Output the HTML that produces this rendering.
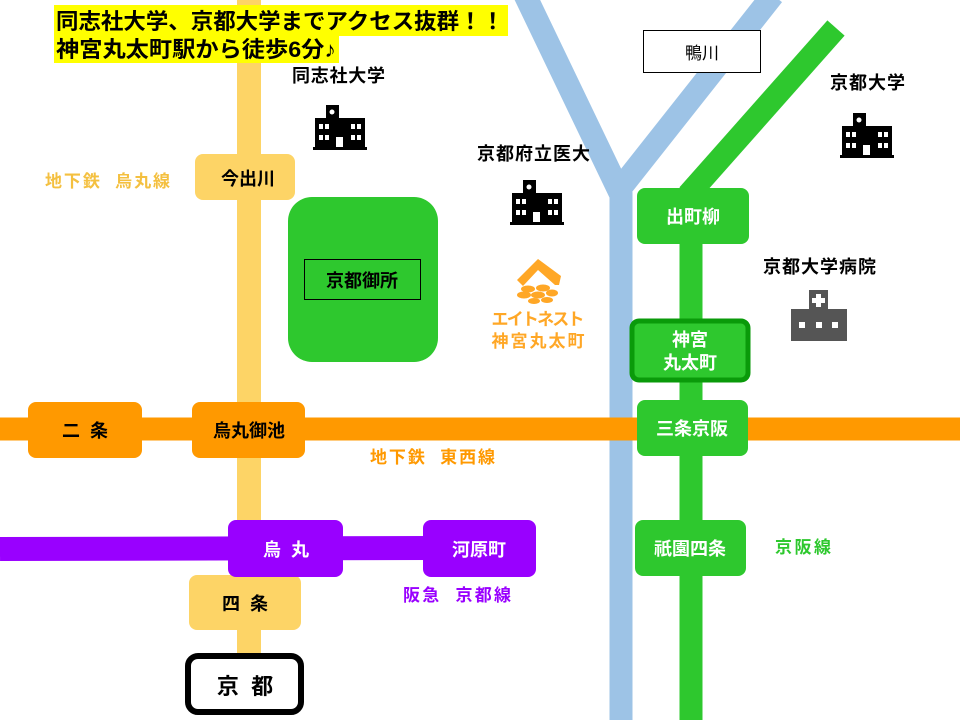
<!DOCTYPE html>
<html><head><meta charset="utf-8"><style>
html,body{margin:0;padding:0;background:#fff}
svg{display:block}
text{font-family:"Liberation Sans","Noto Sans CJK JP",sans-serif;font-weight:bold}
</style></head><body>
<svg width="960" height="720" viewBox="0 0 960 720" xmlns="http://www.w3.org/2000/svg">
<polyline points="525,-5 621,195 621,725" fill="none" stroke="#9DC3E6" stroke-width="23"/>
<line x1="773" y1="-5" x2="615" y2="195" stroke="#9DC3E6" stroke-width="23"/>
<line x1="836" y1="28" x2="688" y2="195" stroke="#2EC82E" stroke-width="23"/>
<line x1="691" y1="190" x2="691" y2="725" stroke="#2EC82E" stroke-width="23"/>
<line x1="249" y1="-5" x2="249" y2="660" stroke="#FDD466" stroke-width="24"/>
<line x1="0" y1="429" x2="960" y2="429" stroke="#FF9900" stroke-width="23"/>
<line x1="0" y1="549" x2="430" y2="548" stroke="#9900FF" stroke-width="24"/>

<rect x="54" y="5" width="454" height="31" fill="#FFFF00"/>
<rect x="54" y="35" width="285" height="28" fill="#FFFF00"/>
<text x="56" y="29" font-size="22" fill="#000" textLength="448" lengthAdjust="spacingAndGlyphs">同志社大学、京都大学までアクセス抜群！！</text>
<text x="56" y="57" font-size="22" fill="#000" textLength="280" lengthAdjust="spacingAndGlyphs">神宮丸太町駅から徒歩6分♪</text>

<text x="292" y="82" font-size="18" fill="#000" textLength="93">同志社大学</text>
<text x="477" y="160" font-size="18" fill="#000" textLength="113">京都府立医大</text>
<text x="830" y="89" font-size="18" fill="#000" textLength="75">京都大学</text>
<text x="763" y="273" font-size="18" fill="#000" textLength="113">京都大学病院</text>
<text x="45" y="187" font-size="17" fill="#F4C040" textLength="125" xml:space="preserve">地下鉄  烏丸線</text>
<text x="370" y="463" font-size="17" fill="#FF9900" textLength="125" xml:space="preserve">地下鉄  東西線</text>
<text x="403" y="601" font-size="17" fill="#9900FF" textLength="108" xml:space="preserve">阪急  京都線</text>
<text x="775" y="553" font-size="17" fill="#2EC82E" textLength="56">京阪線</text>

<g fill="#000">
<rect x="326" y="105" width="13" height="14"/><rect x="315" y="118" width="50" height="30"/><rect x="313" y="147" width="54" height="3"/>
</g>
<g fill="#fff">
<circle cx="332" cy="112" r="2.5"/>
<rect x="319" y="124" width="4" height="5"/><rect x="325" y="124" width="4" height="5"/><rect x="351" y="124" width="4" height="5"/><rect x="357" y="124" width="4" height="5"/>
<rect x="319" y="135" width="4" height="5"/><rect x="325" y="135" width="4" height="5"/><rect x="351" y="135" width="4" height="5"/><rect x="357" y="135" width="4" height="5"/>
<rect x="336" y="137" width="7" height="10"/>
</g>
<g transform="translate(197,75)">
<rect x="326" y="105" width="13" height="14"/><rect x="315" y="118" width="50" height="30"/><rect x="313" y="147" width="54" height="3"/>
<g fill="#fff"><circle cx="332" cy="112" r="2.5"/>
<rect x="319" y="124" width="4" height="5"/><rect x="325" y="124" width="4" height="5"/><rect x="351" y="124" width="4" height="5"/><rect x="357" y="124" width="4" height="5"/>
<rect x="319" y="135" width="4" height="5"/><rect x="325" y="135" width="4" height="5"/><rect x="351" y="135" width="4" height="5"/><rect x="357" y="135" width="4" height="5"/>
<rect x="336" y="137" width="7" height="10"/></g></g>
<g transform="translate(527,8)">
<rect x="326" y="105" width="13" height="14"/><rect x="315" y="118" width="50" height="30"/><rect x="313" y="147" width="54" height="3"/>
<g fill="#fff"><circle cx="332" cy="112" r="2.5"/>
<rect x="319" y="124" width="4" height="5"/><rect x="325" y="124" width="4" height="5"/><rect x="351" y="124" width="4" height="5"/><rect x="357" y="124" width="4" height="5"/>
<rect x="319" y="135" width="4" height="5"/><rect x="325" y="135" width="4" height="5"/><rect x="351" y="135" width="4" height="5"/><rect x="357" y="135" width="4" height="5"/>
<rect x="336" y="137" width="7" height="10"/></g></g>

<rect x="809" y="290" width="19" height="20" fill="#555"/>
<rect x="791" y="309" width="56" height="32" fill="#555"/>
<rect x="816" y="294" width="5" height="13" fill="#fff"/><rect x="812" y="298" width="13" height="5" fill="#fff"/>
<rect x="799" y="322" width="6" height="6" fill="#fff"/><rect x="816" y="322" width="6" height="6" fill="#fff"/><rect x="832" y="322" width="6" height="6" fill="#fff"/>

<path d="M517,280 L538,259 L561,276 L559,285 L555,285 L538,270 L523,286 Z" fill="#FFA726"/>
<g fill="#FFA726">
<ellipse cx="528" cy="289" rx="7" ry="3.5"/><ellipse cx="543" cy="288" rx="7" ry="3.5"/>
<ellipse cx="524" cy="295" rx="7" ry="3.5"/><ellipse cx="538" cy="295" rx="7" ry="3.5"/><ellipse cx="552" cy="293" rx="6" ry="3.5"/>
<ellipse cx="534" cy="301" rx="6" ry="3"/><ellipse cx="547" cy="300" rx="6" ry="3"/>
</g>
<text x="538" y="325" font-size="17" fill="#FFA726" text-anchor="middle" textLength="93">エイトネスト</text>
<text x="538" y="347" font-size="17" fill="#FFA726" text-anchor="middle" textLength="93">神宮丸太町</text>

<rect x="643.5" y="30.5" width="117" height="42" fill="#fff" stroke="#000" stroke-width="1"/>
<text x="702" y="59" font-size="17" fill="#000" text-anchor="middle" style="font-weight:normal">鴨川</text>

<rect x="288" y="197" width="150" height="165" rx="24" fill="#2EC82E"/>
<rect x="304.5" y="259.5" width="116" height="40" fill="none" stroke="#000" stroke-width="1"/>
<text x="362" y="287" font-size="18" fill="#000" text-anchor="middle">京都御所</text>

<rect x="195" y="154" width="100" height="46" rx="8" fill="#FDD466"/>
<text x="248" y="185" font-size="18" fill="#000" text-anchor="middle">今出川</text>
<rect x="189" y="575" width="112" height="55" rx="8" fill="#FDD466"/>
<text x="245" y="610" font-size="18" fill="#000" text-anchor="middle" xml:space="preserve">四  条</text>
<rect x="188" y="656" width="113" height="56" rx="10" fill="#fff" stroke="#000" stroke-width="6"/>
<text x="245" y="694" font-size="22" fill="#000" text-anchor="middle" xml:space="preserve">京  都</text>

<rect x="28" y="402" width="114" height="56" rx="8" fill="#FF9900"/>
<text x="85" y="437" font-size="18" fill="#000" text-anchor="middle" xml:space="preserve">二  条</text>
<rect x="192" y="402" width="113" height="56" rx="8" fill="#FF9900"/>
<text x="249" y="437" font-size="18" fill="#000" text-anchor="middle">烏丸御池</text>

<rect x="228" y="520" width="115" height="57" rx="8" fill="#9900FF"/>
<text x="286" y="556" font-size="18" fill="#fff" text-anchor="middle" xml:space="preserve">烏  丸</text>
<rect x="423" y="520" width="113" height="57" rx="8" fill="#9900FF"/>
<text x="479" y="556" font-size="18" fill="#fff" text-anchor="middle">河原町</text>

<rect x="637" y="188" width="112" height="56" rx="8" fill="#2EC82E"/>
<text x="693" y="223" font-size="18" fill="#fff" text-anchor="middle">出町柳</text>
<rect x="632" y="321" width="116" height="59" rx="7" fill="#2EC82E" stroke="#0A9A0A" stroke-width="5"/>
<text x="690" y="346" font-size="18" fill="#fff" text-anchor="middle">神宮</text>
<text x="690" y="369" font-size="18" fill="#fff" text-anchor="middle">丸太町</text>
<rect x="637" y="400" width="111" height="56" rx="8" fill="#2EC82E"/>
<text x="692" y="435" font-size="18" fill="#fff" text-anchor="middle">三条京阪</text>
<rect x="635" y="520" width="111" height="56" rx="8" fill="#2EC82E"/>
<text x="690" y="555" font-size="18" fill="#fff" text-anchor="middle">祇園四条</text>
</svg>
</body></html>
